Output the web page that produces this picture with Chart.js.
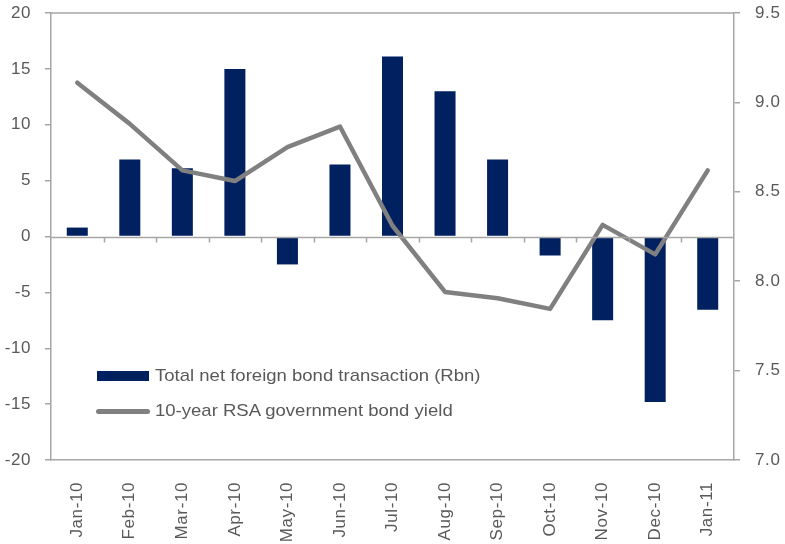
<!DOCTYPE html>
<html>
<head>
<meta charset="utf-8">
<script src="https://cdn.jsdelivr.net/npm/chart.js@4"></script>
<style>
  html, body { margin: 0; padding: 0; background: #fff; }
  #wrap { position: relative; width: 785px; height: 544px; }
  canvas { display: block; }
  .lg { position: absolute; font-family: "Liberation Sans", Arial, sans-serif; font-size: 17px; color: #595959; white-space: nowrap; line-height: 18px; transform-origin: 0 50%; transform: scaleX(1.09); }
  .sw-bar { position: absolute; left: 97px; top: 371px; width: 52px; height: 10px; background: #002060; }
  .sw-line { position: absolute; left: 96px; top: 409px; width: 54px; height: 5px; background: #808080; border-radius: 3px; }
</style>
</head>
<body>
<div id="wrap">
  <canvas id="c" width="785" height="544"></canvas>
  <div class="sw-bar"></div>
  <div class="lg" style="left:155px; top:367px;">Total net foreign bond transaction (Rbn)</div>
  <div class="sw-line"></div>
  <div class="lg" style="left:155px; top:402px;">10-year RSA government bond yield</div>
</div>
<script>
const categories = ["Jan-10","Feb-10","Mar-10","Apr-10","May-10","Jun-10","Jul-10","Aug-10","Sep-10","Oct-10","Nov-10","Dec-10","Jan-11"];
const netForeignBond = [0.8, 6.9, 6.1, 15.0, -2.5, 6.45, 16.1, 13.0, 6.9, -1.7, -7.5, -14.8, -6.55];
const bondYield = [9.11, 8.88, 8.62, 8.56, 8.75, 8.865, 8.31, 7.94, 7.905, 7.845, 8.315, 8.15, 8.62];
const leftTicks = [-20, -15, -10, -5, 0, 5, 10, 15, 20];
const rightTicks = [7.0, 7.5, 8.0, 8.5, 9.0, 9.5];

const AXIS = '#a6a6a6';
const TXT = '#595959';
const FONT = { family: '"Liberation Sans", Arial, sans-serif', size: 17 };

const spacingPlugin = {
  id: 'spacing',
  beforeInit(chart) { chart.ctx.letterSpacing = '0.6px'; },
  beforeDraw(chart) { chart.ctx.letterSpacing = '0.6px'; }
};

const framePlugin = {
  id: 'frame',
  afterDatasetsDraw(chart) {
    const { ctx, chartArea: a, scales } = chart;
    const x = scales.x, y = scales.y;
    const y0 = Math.round(y.getPixelForValue(0)) + 0.5;
    ctx.save();
    ctx.strokeStyle = AXIS;
    ctx.lineWidth = 1.5;
    ctx.beginPath();
    ctx.moveTo(a.left, a.top);
    ctx.lineTo(a.right, a.top);
    ctx.stroke();
    ctx.beginPath();
    ctx.moveTo(a.left, y0);
    ctx.lineTo(a.right, y0);
    ctx.stroke();
    const half = (x.getPixelForValue(1) - x.getPixelForValue(0)) / 2;
    for (let i = 1; i < categories.length; i++) {
      const px = Math.round(x.getPixelForValue(i) - half) + 0.5;
      ctx.beginPath();
      ctx.moveTo(px, y0);
      ctx.lineTo(px, y0 + 5);
      ctx.stroke();
    }
    ctx.restore();
  }
};

function fixV(w) {
  return function (s) { s.width = w; s.paddingTop = 0; s.paddingBottom = 0; };
}

new Chart(document.getElementById('c'), {
  data: {
    labels: categories,
    datasets: [
      {
        type: 'line',
        label: '10-year RSA government bond yield',
        data: bondYield,
        yAxisID: 'y1',
        borderColor: '#808080',
        borderWidth: 4.5,
        pointRadius: 0,
        tension: 0,
        borderCapStyle: 'round',
        borderJoinStyle: 'round',
        order: 0
      },
      {
        type: 'bar',
        label: 'Total net foreign bond transaction (Rbn)',
        data: netForeignBond,
        yAxisID: 'y',
        backgroundColor: '#002060',
        categoryPercentage: 1,
        barPercentage: 0.4,
        order: 1
      }
    ]
  },
  options: {
    responsive: false,
    animation: false,
    layout: { padding: { top: 13, left: 0, right: 0, bottom: 0 } },
    plugins: { legend: { display: false }, tooltip: { enabled: false } },
    scales: {
      x: {
        afterFit(s) { s.height = 84; s.paddingLeft = 0; s.paddingRight = 0; },
        grid: { display: true, drawOnChartArea: false, drawTicks: false },
        border: { display: true, color: AXIS, width: 1.5 },
        ticks: { color: TXT, font: FONT, minRotation: 90, maxRotation: 90, padding: 22, autoSkip: false }
      },
      y: {
        position: 'left',
        min: -20, max: 20,
        afterBuildTicks(s) { s.ticks = leftTicks.map(v => ({ value: v })); },
        afterFit: fixV(51),
        grid: { display: true, drawOnChartArea: false, drawTicks: true, tickLength: 6, color: AXIS, lineWidth: 1.5 },
        border: { display: true, color: AXIS, width: 1.5 },
        ticks: { color: TXT, font: FONT, padding: 14, callback: v => String(v) }
      },
      y1: {
        position: 'right',
        min: 7.0, max: 9.5,
        afterBuildTicks(s) { s.ticks = rightTicks.map(v => ({ value: v })); },
        afterFit: fixV(51),
        grid: { display: true, drawOnChartArea: false, drawTicks: true, tickLength: 6, color: AXIS, lineWidth: 1.5 },
        border: { display: true, color: AXIS, width: 1.5 },
        ticks: { color: TXT, font: FONT, padding: 15, callback: v => Number(v).toFixed(1) }
      }
    }
  },
  plugins: [spacingPlugin, framePlugin]
});
</script>
</body>
</html>
